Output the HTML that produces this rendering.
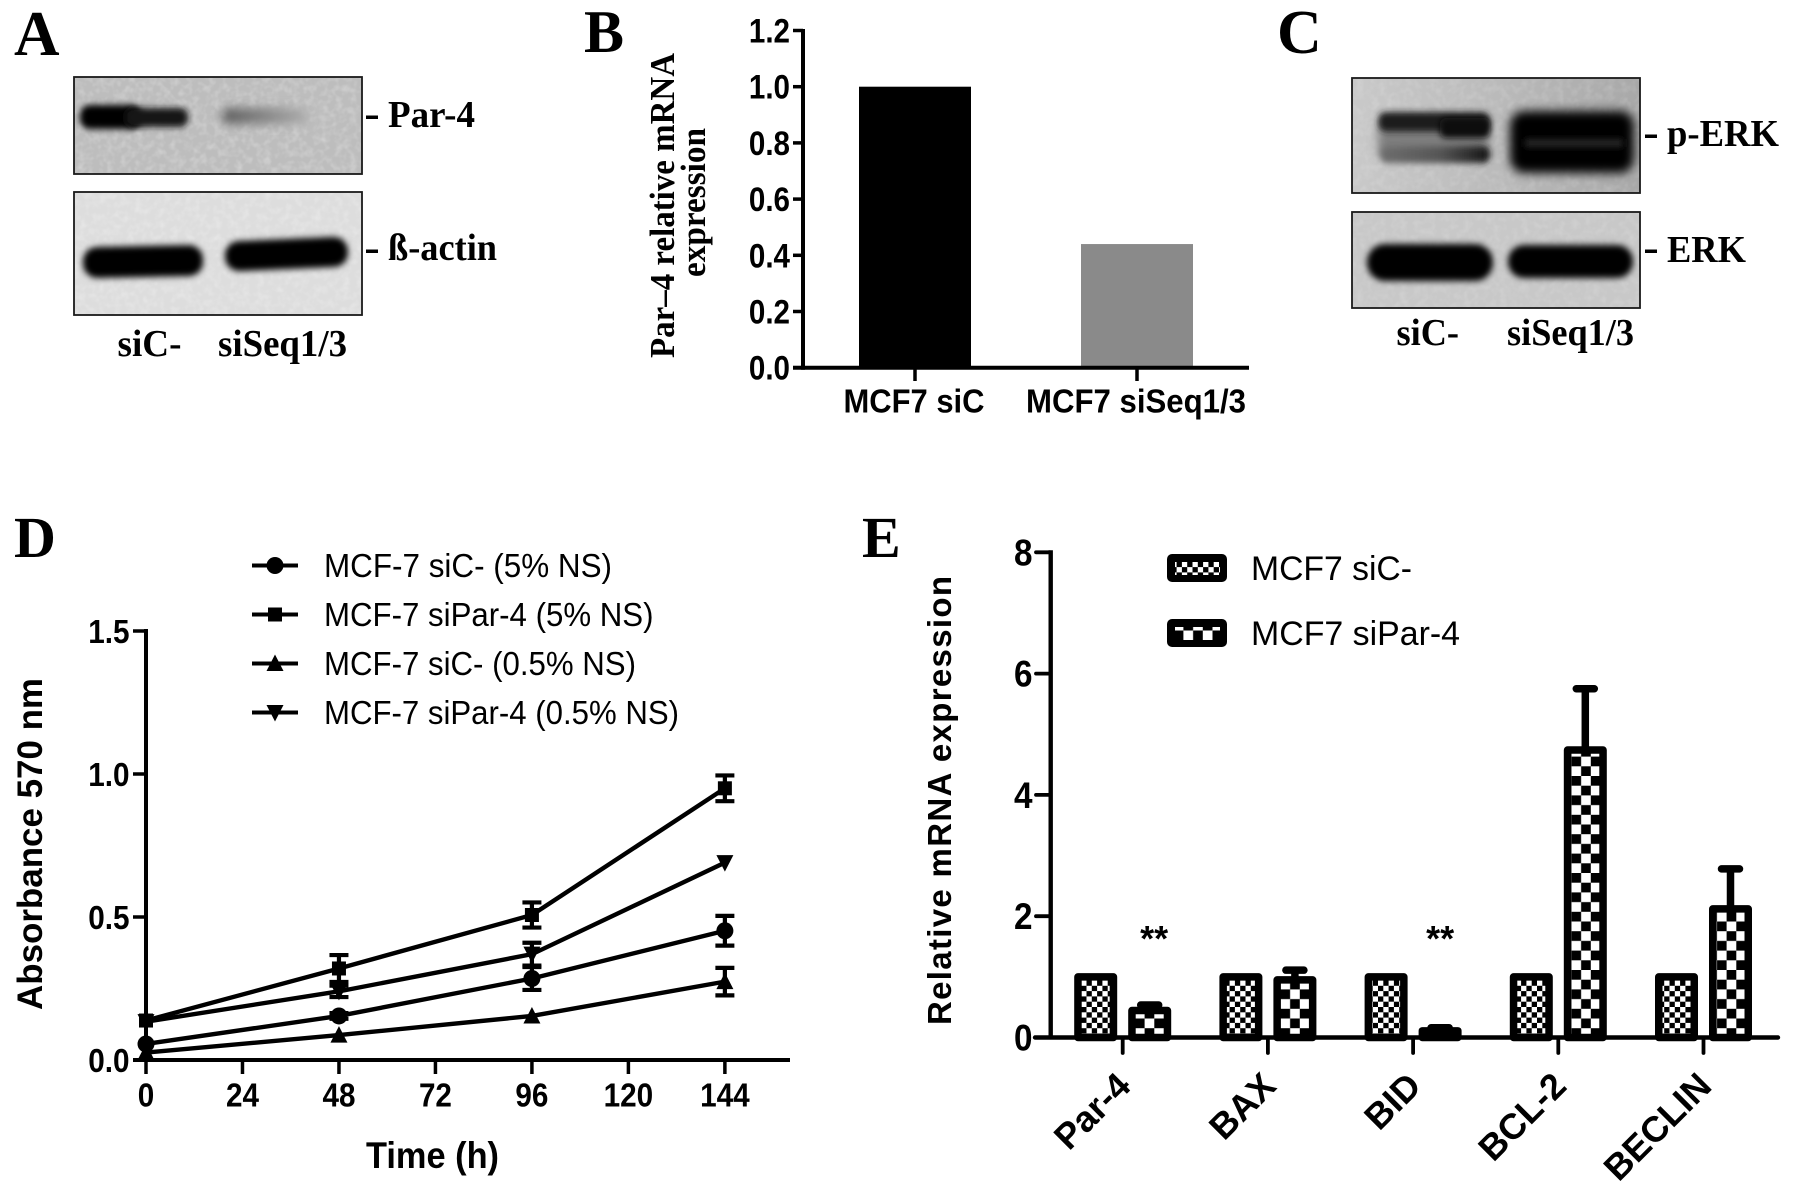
<!DOCTYPE html>
<html lang="en">
<head>
<meta charset="utf-8">
<title>Par-4 knockdown figure</title>
<style>
html,body{margin:0;padding:0;background:#fff;}
svg{display:block;}
.serif{font-family:"Liberation Serif",serif;font-weight:700;fill:#000;}
.sans{font-family:"Liberation Sans",sans-serif;fill:#000;}
.bold{font-weight:700;}
</style>
</head>
<body>
<svg id="fig" xmlns="http://www.w3.org/2000/svg" width="1795" height="1194" viewBox="0 0 1795 1194">
<defs>
<filter id="b2" x="-30%" y="-100%" width="160%" height="300%"><feGaussianBlur stdDeviation="3.2"/></filter>
<filter id="b4" x="-30%" y="-100%" width="160%" height="300%"><feGaussianBlur stdDeviation="5"/></filter>
<filter id="noise" x="0" y="0" width="100%" height="100%"><feTurbulence type="fractalNoise" baseFrequency="0.14" numOctaves="2" seed="4"/><feColorMatrix type="matrix" values="0 0 0 0 1  0 0 0 0 1  0 0 0 0 1  1.6 0 0 0 -0.65"/></filter>
<clipPath id="clipA1"><rect x="74" y="77" width="288" height="97"/></clipPath>
<clipPath id="clipA2"><rect x="74" y="192" width="288" height="123"/></clipPath>
<clipPath id="clipC1"><rect x="1352" y="78" width="288" height="115"/></clipPath>
<clipPath id="clipC2"><rect x="1352" y="212" width="288" height="96"/></clipPath>
<linearGradient id="fadeA"><stop offset="0" stop-color="#5c5c5c"/><stop offset="0.45" stop-color="#808080"/><stop offset="1" stop-color="#aeaeae"/></linearGradient>
<linearGradient id="bgC1"><stop offset="0" stop-color="#c9c9c9"/><stop offset="0.45" stop-color="#bcbcbc"/><stop offset="1" stop-color="#a8a8a8"/></linearGradient>
<linearGradient id="fadeC"><stop offset="0" stop-color="#6e6e6e"/><stop offset="0.55" stop-color="#555"/><stop offset="1" stop-color="#141414"/></linearGradient>
<pattern id="fineCheck" patternUnits="userSpaceOnUse" width="10.6" height="10.6"><rect width="10.6" height="10.6" fill="#fff"/><rect width="5.3" height="5.3" fill="#000"/><rect x="5.3" y="5.3" width="5.3" height="5.3" fill="#000"/></pattern>
<pattern id="coarseCheck" patternUnits="userSpaceOnUse" width="19.4" height="19.4"><rect width="19.4" height="19.4" fill="#fff"/><rect width="9.7" height="9.7" fill="#000"/><rect x="9.7" y="9.7" width="9.7" height="9.7" fill="#000"/></pattern>
</defs>

<text class="serif" x="14" y="55" font-size="63">A</text>
<text class="serif" x="584" y="52" font-size="60">B</text>
<text class="serif" x="1277" y="53" font-size="62">C</text>
<text class="serif" x="14" y="557" font-size="58">D</text>
<text class="serif" x="862" y="557" font-size="58">E</text>

<!-- Panel A blots -->
<g>
  <g clip-path="url(#clipA1)">
    <rect x="74" y="77" width="288" height="97" fill="#bdbdbd"/>
    <rect x="74" y="77" width="288" height="97" filter="url(#noise)" opacity="0.35"/>
    <rect x="80" y="105" width="62" height="24" rx="10" fill="#000" filter="url(#b2)"/>
    <rect x="125" y="108" width="63" height="19" rx="8" fill="#141414" filter="url(#b2)"/>
    <rect x="222" y="108" width="86" height="16" rx="7" fill="url(#fadeA)" filter="url(#b4)"/>
  </g>
  <rect x="74" y="77" width="288" height="97" fill="none" stroke="#1a1a1a" stroke-width="1.8"/>
</g>
<g>
  <g clip-path="url(#clipA2)">
    <rect x="74" y="192" width="288" height="123" fill="#dddddd"/>
    <rect x="74" y="192" width="288" height="123" filter="url(#noise)" opacity="0.35"/>
    <rect x="83" y="246" width="120" height="31" rx="14" fill="#000" filter="url(#b2)" transform="rotate(-1.2 144 261)"/>
    <rect x="225" y="239" width="123" height="30" rx="14" fill="#000" filter="url(#b2)" transform="rotate(-2.5 287 254)"/>
  </g>
  <rect x="74" y="192" width="288" height="123" fill="none" stroke="#1a1a1a" stroke-width="1.8"/>
</g>
<rect x="366" y="115.5" width="12" height="3.5" fill="#000"/>
<text class="serif" x="388" y="127" font-size="38" textLength="87" lengthAdjust="spacingAndGlyphs">Par-4</text>
<rect x="366" y="249.5" width="12" height="3.5" fill="#000"/>
<text class="serif" x="388" y="260" font-size="38" textLength="109" lengthAdjust="spacingAndGlyphs">ß-actin</text>
<text class="serif" x="117.5" y="356" font-size="38" textLength="64" lengthAdjust="spacingAndGlyphs">siC-</text>
<text class="serif" x="218" y="356" font-size="38" textLength="129" lengthAdjust="spacingAndGlyphs">siSeq1/3</text>

<!-- Panel B static title -->
<text class="serif" transform="translate(674,358) rotate(-90)" font-size="35" textLength="305" lengthAdjust="spacingAndGlyphs">Par–4 relative mRNA</text>
<text class="serif" transform="translate(705,277) rotate(-90)" font-size="35" textLength="149" lengthAdjust="spacingAndGlyphs">expression</text>
<g id="panelB"></g>

<!-- Panel C blots -->
<g>
  <g clip-path="url(#clipC1)">
    <rect x="1352" y="78" width="288" height="115" fill="url(#bgC1)"/>
    <rect x="1352" y="78" width="288" height="115" filter="url(#noise)" opacity="0.2"/>
    <rect x="1378" y="128" width="110" height="26" fill="#7e7e7e" filter="url(#b4)"/>
    <rect x="1378" y="112" width="112" height="20" rx="8" fill="#1c1c1c" filter="url(#b2)"/>
    <rect x="1440" y="118" width="50" height="20" rx="6" fill="#0c0c0c" filter="url(#b2)"/>
    <rect x="1380" y="146" width="110" height="17" rx="7" fill="url(#fadeC)" filter="url(#b2)"/>
    <rect x="1510" y="111" width="124" height="62" rx="14" fill="#030303" filter="url(#b4)"/>
    <rect x="1525" y="139" width="98" height="8" fill="#262626" filter="url(#b2)"/>
  </g>
  <rect x="1352" y="78" width="288" height="115" fill="none" stroke="#1a1a1a" stroke-width="1.8"/>
</g>
<g>
  <g clip-path="url(#clipC2)">
    <rect x="1352" y="212" width="288" height="96" fill="#c8c8c8"/>
    <rect x="1352" y="212" width="288" height="96" filter="url(#noise)" opacity="0.2"/>
    <rect x="1367" y="244" width="126" height="37" rx="18" fill="#000" filter="url(#b2)"/>
    <rect x="1508" y="245" width="125" height="33" rx="16" fill="#000" filter="url(#b2)"/>
  </g>
  <rect x="1352" y="212" width="288" height="96" fill="none" stroke="#1a1a1a" stroke-width="1.8"/>
</g>
<rect x="1645" y="134.5" width="12" height="3.5" fill="#000"/>
<text class="serif" x="1667" y="146" font-size="38" textLength="112" lengthAdjust="spacingAndGlyphs">p-ERK</text>
<rect x="1645" y="249.5" width="12" height="3.5" fill="#000"/>
<text class="serif" x="1667" y="262" font-size="38" textLength="79" lengthAdjust="spacingAndGlyphs">ERK</text>
<text class="serif" x="1396.5" y="345" font-size="38" textLength="62.5" lengthAdjust="spacingAndGlyphs">siC-</text>
<text class="serif" x="1507" y="345" font-size="38" textLength="127" lengthAdjust="spacingAndGlyphs">siSeq1/3</text>

<!-- Panel D -->
<text class="sans bold" transform="translate(42,1010) rotate(-90)" font-size="35" textLength="332" lengthAdjust="spacingAndGlyphs">Absorbance 570 nm</text>
<text class="sans bold" x="366" y="1168" font-size="37" textLength="133" lengthAdjust="spacingAndGlyphs">Time (h)</text>
<g id="panelD"></g>

<!-- Panel E -->
<text class="sans bold" transform="translate(951,1025) rotate(-90)" font-size="33" textLength="449" lengthAdjust="spacing">Relative mRNA expression</text>
<g id="panelE"></g>
<g>
  <rect x="1167" y="554" width="60" height="28" rx="5" fill="#000"/>
  <rect x="1175" y="562" width="45" height="13" fill="url(#fineCheck)"/>
  <text class="sans" x="1251" y="580" font-size="34" textLength="161" lengthAdjust="spacingAndGlyphs">MCF7 siC-</text>
  <rect x="1167" y="619" width="60" height="28" rx="5" fill="#000"/>
  <rect x="1175" y="627" width="45" height="13" fill="url(#coarseCheck)"/>
  <text class="sans" x="1251" y="645" font-size="34" textLength="209" lengthAdjust="spacingAndGlyphs">MCF7 siPar-4</text>
</g>
</svg>

<script>
// Panel B data
const bCategories = ['MCF7 siC', 'MCF7 siSeq1/3'];
const bValues = [1.0, 0.44];
const bColors = ['#000000', '#8a8a8a'];
const bTicks = ['0.0', '0.2', '0.4', '0.6', '0.8', '1.0', '1.2'];

// Panel D data
const dHours = [0, 48, 96, 144];
const dXTicks = [0, 24, 48, 72, 96, 120, 144];
const dYTicks = ['0.0', '0.5', '1.0', '1.5'];
const dSiC5 = [0.056, 0.154, 0.285, 0.452];
const dSiC5Err = [0, 0.01, 0.04, 0.052];
const dSiPar5 = [0.138, 0.32, 0.507, 0.95];
const dSiPar5Err = [0, 0.047, 0.044, 0.045];
const dSiC05 = [0.026, 0.087, 0.154, 0.274];
const dSiC05Err = [0, 0, 0, 0.048];
const dSiPar05 = [0.134, 0.24, 0.37, 0.69];
const dSiPar05Err = [0, 0.02, 0.04, 0];
const dSeriesNames = ['MCF-7 siC- (5% NS)', 'MCF-7 siPar-4 (5% NS)', 'MCF-7 siC- (0.5% NS)', 'MCF-7 siPar-4 (0.5% NS)'];

// Panel E data
const eCategories = ['Par-4', 'BAX', 'BID', 'BCL-2', 'BECLIN'];
const eSiC = [1, 1, 1, 1, 1];
const eSiPar = [0.445, 0.95, 0.11, 4.74, 2.12];
const eSiParErrTop = [0.535, 1.11, 0.16, 5.75, 2.78];
const eStars = ['**', '', '**', '', ''];
const eYTicks = [0, 2, 4, 6, 8];

const NS = 'http://www.w3.org/2000/svg';
function mk(parent, tag, attrs, txt) {
  const el = document.createElementNS(NS, tag);
  for (const k in attrs) el.setAttribute(k, attrs[k]);
  if (txt !== undefined) el.textContent = txt;
  parent.appendChild(el);
  return el;
}
function axisLine(parent, x1, y1, x2, y2, w, cap) {
  return mk(parent, 'line', { x1: x1, y1: y1, x2: x2, y2: y2, stroke: '#000', 'stroke-width': w, 'stroke-linecap': cap || 'butt' });
}
function squeeze(el, k) {
  el.setAttribute('textLength', (el.getComputedTextLength() * k).toFixed(1));
  el.setAttribute('lengthAdjust', 'spacingAndGlyphs');
}

/* ---------- Panel B ---------- */
(function () {
  const g = document.getElementById('panelB');
  const yB = v => 367.7 - v * 281;
  const xB = i => 915 + i * 222;
  bValues.forEach((v, i) => {
    const bar = mk(g, 'rect', { x: xB(i) - 56, y: yB(v), width: 112, height: yB(0) - yB(v), fill: bColors[i] });
    
    
  });
  const yAxis = axisLine(g, 803, yB(1.2) - 1.5, 803, yB(0) + 2, 4);
  
  
  const xAxis = axisLine(g, 793, yB(0), 1249, yB(0), 4);
  
  
  bTicks.forEach(t => {
    const y = yB(parseFloat(t));
    const tick = axisLine(g, 793, y, 803, y, 3.5);
    
    
    const lab = mk(g, 'text', { class: 'sans bold', x: 790, y: y + 12, 'font-size': 34, 'text-anchor': 'end' }, t);
    
    
    squeeze(lab, 0.87);
  });
  bCategories.forEach((c, i) => {
    const tick = axisLine(g, xB(i), yB(0), xB(i), 381, 3.5);
    
    
    const lab = mk(g, 'text', { class: 'sans bold', x: xB(i) - 1, y: 412.5, 'font-size': 33, 'text-anchor': 'middle', textLength: i ? 220 : 141, lengthAdjust: 'spacingAndGlyphs' }, c);
    
    
  });
})();

/* ---------- Panel D ---------- */
(function () {
  const g = document.getElementById('panelD');
  const yD = v => 1060 - v * 286;
  const xD = h => 146 + h * 4.02;

  const yAxis = axisLine(g, 146, yD(1.5) - 2, 146, yD(0) + 2, 4);
  
  
  const xAxis = axisLine(g, 133, yD(0), 790, yD(0), 4);
  
  

  dYTicks.forEach(t => {
    const y = yD(parseFloat(t));
    const tick = axisLine(g, 133, y, 146, y, 3.5);
    
    
    const lab = mk(g, 'text', { class: 'sans bold', x: 129.5, y: y + 12, 'font-size': 33, 'text-anchor': 'end' }, t);
    
    
    squeeze(lab, 0.9);
  });
  dXTicks.forEach(h => {
    const tick = axisLine(g, xD(h), yD(0), xD(h), 1074, 3.5);
    
    
    const lab = mk(g, 'text', { class: 'sans bold', x: xD(h), y: 1106.5, 'font-size': 33, 'text-anchor': 'middle' }, String(h));
    
    
    squeeze(lab, 0.9);
  });

  function marker(parent, kind, cx, cy) {
    let m;
    if (kind === 'circle') {
      m = mk(parent, 'circle', { cx: cx, cy: cy, r: 8.5, fill: '#000' });
    } else if (kind === 'square') {
      m = mk(parent, 'rect', { x: cx - 7, y: cy - 7, width: 14, height: 14, fill: '#000' });
    } else if (kind === 'up') {
      m = mk(parent, 'polygon', { points: [cx - 8.5, cy + 7.5, cx + 8.5, cy + 7.5, cx, cy - 9].join(','), fill: '#000' });
    } else {
      m = mk(parent, 'polygon', { points: [cx - 8.5, cy - 7.5, cx + 8.5, cy - 7.5, cx, cy + 9].join(','), fill: '#000' });
    }
    return m;
  }

  const series = [
    { vals: dSiC5, errs: dSiC5Err, kind: 'circle' },
    { vals: dSiPar5, errs: dSiPar5Err, kind: 'square' },
    { vals: dSiC05, errs: dSiC05Err, kind: 'up' },
    { vals: dSiPar05, errs: dSiPar05Err, kind: 'down' }
  ];
  const legendWidths = [288, 329.5, 312, 355];
  series.forEach((s, si) => {
    const pts = dHours.map((h, i) => xD(h) + ',' + yD(s.vals[i])).join(' ');
    const line = mk(g, 'polyline', { points: pts, fill: 'none', stroke: '#000', 'stroke-width': 4.4 });
    
    
    dHours.forEach((h, i) => {
      if (s.errs[i] > 0) {
        const x = xD(h);
        const top = yD(s.vals[i] + s.errs[i]);
        const bot = yD(s.vals[i] - s.errs[i]);
        const eb = mk(g, 'path', { d: 'M' + x + ' ' + top + 'V' + bot + 'M' + (x - 9.5) + ' ' + top + 'H' + (x + 9.5) + 'M' + (x - 9.5) + ' ' + bot + 'H' + (x + 9.5), fill: 'none', stroke: '#000', 'stroke-width': 4.2 });
        
        
      }
      const m = marker(g, s.kind, xD(h), yD(s.vals[i]));
      
      
    });
    const ly = 565.5 + si * 49;
    const lline = axisLine(g, 252, ly, 298, ly, 4);
    
    
    const lm = marker(g, s.kind, 275, ly);
    
    
    const lt = mk(g, 'text', { class: 'sans', x: 324, y: ly + 11.5, 'font-size': 33, textLength: legendWidths[si], lengthAdjust: 'spacingAndGlyphs' }, dSeriesNames[si]);
    
    
  });
})();

/* ---------- Panel E ---------- */
(function () {
  const g = document.getElementById('panelE');
  const yE = v => 1037.5 - v * 60.65;
  const xE = i => 1122.7 + i * 145.2;

  eCategories.forEach((c, i) => {
    const siC = mk(g, 'rect', { x: xE(i) - 27 - 17.75, y: yE(eSiC[i]), width: 35.5, height: yE(0) - yE(eSiC[i]), fill: 'url(#fineCheck)', stroke: '#000', 'stroke-width': 7.5, 'stroke-linejoin': 'round' });
    
    
    const cx = xE(i) + 27;
    const err = mk(g, 'path', { d: 'M' + cx + ' ' + yE(eSiPar[i]) + 'V' + yE(eSiParErrTop[i]), fill: 'none', stroke: '#000', 'stroke-width': 7.5 });
    
    
    const cap = mk(g, 'line', { x1: cx - 9, y1: yE(eSiParErrTop[i]), x2: cx + 9, y2: yE(eSiParErrTop[i]), stroke: '#000', 'stroke-width': 7.5, 'stroke-linecap': 'round' });
    
    
    const siP = mk(g, 'rect', { x: cx - 17.75, y: yE(eSiPar[i]), width: 35.5, height: yE(0) - yE(eSiPar[i]), fill: 'url(#coarseCheck)', stroke: '#000', 'stroke-width': 7.5, 'stroke-linejoin': 'round' });
    
    
    const tick = axisLine(g, xE(i), yE(0), xE(i), 1053, 3.8, 'round');
    
    
    const ax = xE(i) + 10;
    const lab = mk(g, 'text', { class: 'sans bold', transform: 'translate(' + ax + ',1088) rotate(-45)', 'font-size': 36, 'text-anchor': 'end' }, c);
    
    
    if (eStars[i]) {
      const st = mk(g, 'text', { class: 'sans bold', x: cx + (i === 0 ? 4.5 : 0), y: 951, 'font-size': 36, 'text-anchor': 'middle' }, eStars[i]);
      
      
    }
  });

  const yAxis = axisLine(g, 1050.7, yE(8) - 2, 1050.7, yE(0) + 2, 4.4);
  
  
  const xAxis = axisLine(g, 1035, yE(0), 1778, yE(0), 4.4, 'round');
  
  
  eYTicks.forEach(t => {
    const tick = axisLine(g, 1036, yE(t), 1050, yE(t), 3.8, 'round');
    
    
    const lab = mk(g, 'text', { class: 'sans bold', x: 1032.5, y: yE(t) + 13, 'font-size': 37, 'text-anchor': 'end' }, String(t));
    
    
    squeeze(lab, 0.9);
  });
})();
</script>
</body>
</html>
